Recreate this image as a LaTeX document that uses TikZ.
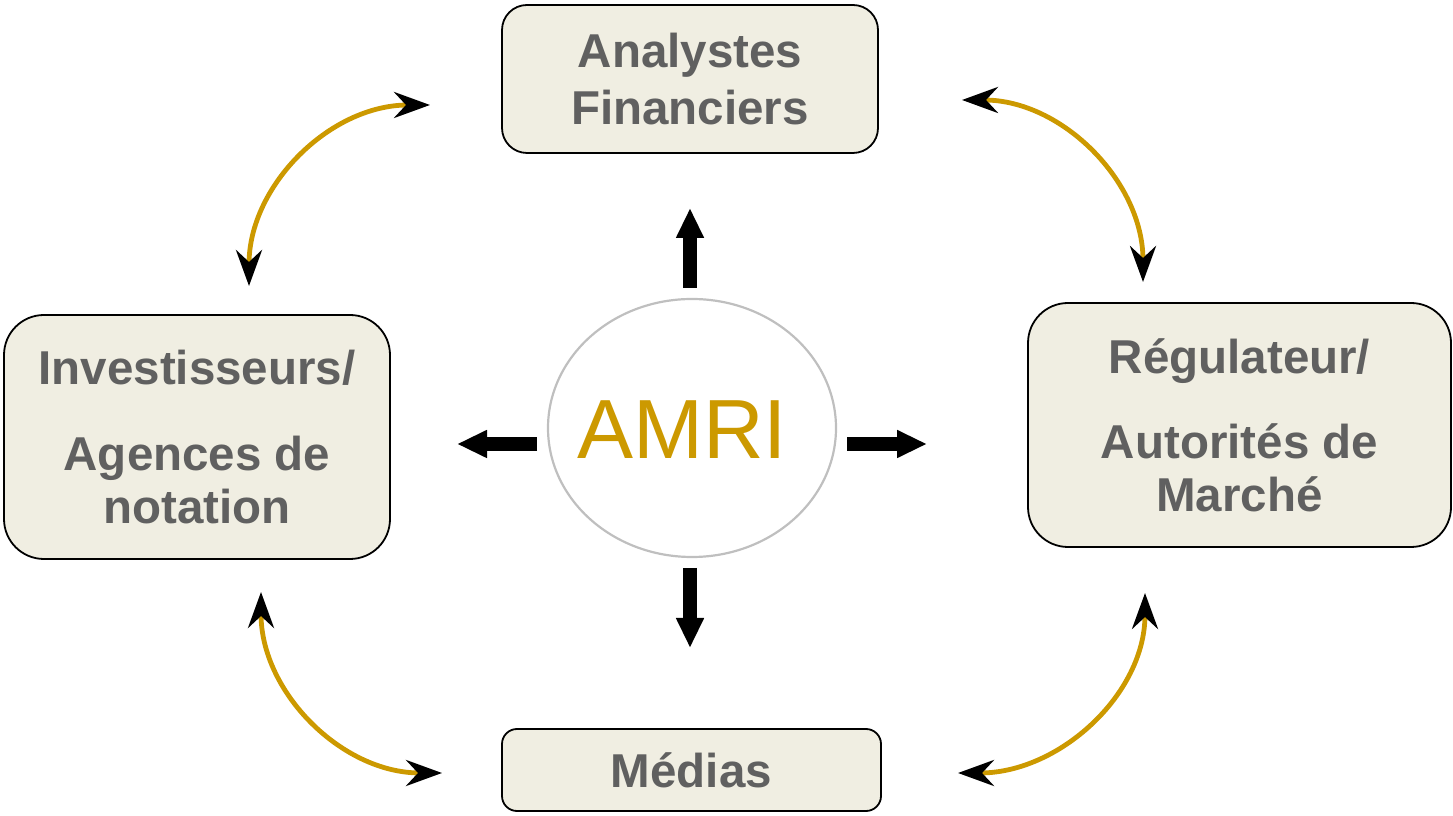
\documentclass[tikz,border=0pt]{standalone}
\usepackage{fontspec}
\setmainfont{Liberation Sans}
\usetikzlibrary{arrows.meta,shapes.geometric}
\definecolor{boxfill}{RGB}{240,238,226}
\definecolor{boxtext}{RGB}{96,96,96}
\definecolor{gold}{RGB}{204,153,0}
\definecolor{ringgray}{RGB}{191,191,191}
\begin{document}
\begin{tikzpicture}[x=1pt,y=1pt,
  actor/.style={draw=black, line width=1.8pt, fill=boxfill, text=boxtext,
    font=\bfseries\fontsize{47.5}{53}\selectfont, align=center, inner sep=0pt},
  blockarrow/.style={line width=13.5pt, -{Triangle[length=30pt,width=26pt]}, black},
  link/.style={draw=gold, line width=4.8pt,
    {Stealth[length=36pt,width=26pt,inset=12pt,black]}-{Stealth[length=36pt,width=26pt,inset=12pt,black]}},
]
\useasboundingbox (0,0) rectangle (1453,816);

% boxes
\node[actor, minimum width=376pt, minimum height=148pt, rounded corners=25pt] (ana) at (690,737) {Analystes\\[4pt]Financiers};
\node[actor, minimum width=386pt, minimum height=244pt, rounded corners=40pt] (inv) at (197,379) {Investisseurs/\\[33pt]Agences de\\notation};
\node[actor, minimum width=423pt, minimum height=244pt, rounded corners=40pt] (reg) at (1239.5,391) {Régulateur/\\[32pt]Autorités de\\Marché};
\node[actor, minimum width=379pt, minimum height=82pt, rounded corners=15pt] (med) at (691.5,46) {Médias};

% centre
\node[ellipse, draw=ringgray, line width=2.2pt, minimum width=288pt, minimum height=258pt, inner sep=0pt] (amri) at (692,388) {};
\node[text=gold, font=\fontsize{84}{84}\selectfont, inner sep=0pt] (amrilabel) at (682,386) {AMRI};

% block arrows
\coordinate (upS) at (690,528);   \coordinate (upE) at (690,608);
\coordinate (dnS) at (690,248);   \coordinate (dnE) at (690,168);
\coordinate (lfS) at (537,372);   \coordinate (lfE) at (457,372);
\coordinate (rtS) at (847,372);   \coordinate (rtE) at (927,372);
\draw[blockarrow] (upS) -- (upE);
\draw[blockarrow] (dnS) -- (dnE);
\draw[blockarrow] (lfS) -- (lfE);
\draw[blockarrow] (rtS) -- (rtE);

% curved links
\coordinate (tlA) at (430,711);  \coordinate (tlB) at (249,530);
\coordinate (trA) at (962,716);  \coordinate (trB) at (1143,534);
\coordinate (blA) at (261,224);  \coordinate (blB) at (442,43);
\coordinate (brA) at (1145,223); \coordinate (brB) at (958,43);
\draw[link] (tlA) to[out=180,in=90] (tlB);
\draw[link] (trA) to[out=0,in=90] (trB);
\draw[link] (blA) to[out=270,in=180] (blB);
\draw[link] (brA) to[out=270,in=0] (brB);
\end{tikzpicture}
\end{document}
